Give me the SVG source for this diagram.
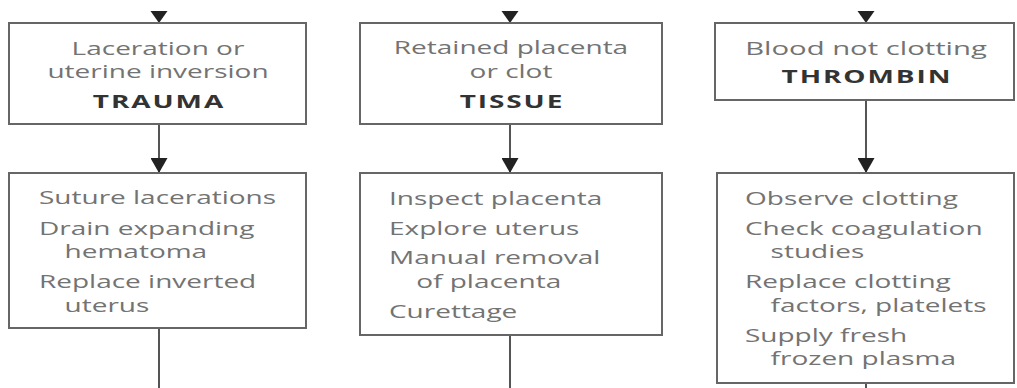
<svg xmlns="http://www.w3.org/2000/svg" width="1017" height="388" viewBox="0 0 1017 388">
<defs>
<style>
.box{fill:#fff;stroke:#666;stroke-width:2}
.conn{fill:none;stroke:#555;stroke-width:2}
.head{fill:#222}
text{font-family:"Open Sans","Noto Sans","Liberation Sans",sans-serif;font-size:17.5px}
.n{fill:#737373}
.b{fill:#333;font-weight:700;letter-spacing:1.2px}
.c{text-anchor:middle}
</style>
<marker id="arr" viewBox="0 0 15 17" refX="15" refY="8.5" markerWidth="15" markerHeight="17" markerUnits="userSpaceOnUse" orient="auto">
<path d="M0,0 L15,8.5 L0,17 z" fill="#222"/>
</marker>
</defs>
<rect width="1017" height="388" fill="#fff"/>

<g id="connectors">
<polygon class="head" points="150.5,11 167.5,11 159,23"/>
<polygon class="head" points="501.5,11 518.5,11 510,23"/>
<polygon class="head" points="857.5,11 874.5,11 866,23"/>
<path class="conn" d="M159,124 L159,173" marker-end="url(#arr)"/>
<path class="conn" d="M510,124 L510,173" marker-end="url(#arr)"/>
<path class="conn" d="M866,100 L866,173" marker-end="url(#arr)"/>
<path class="conn" d="M159,328 L159,388"/>
<path class="conn" d="M510,335 L510,388"/>
<path class="conn" d="M866,383 L866,388"/>
</g>

<g id="trauma">
<rect class="box" x="9" y="23" width="297" height="101"/>
<g transform="translate(158,0) scale(1.6,1)">
<text class="n c" x="0" y="55">Laceration or</text>
<text class="n c" x="0" y="78">uterine inversion</text>
<text class="b c" x="0.6" y="108">TRAUMA</text>
</g>
</g>

<g id="tissue">
<rect class="box" x="360" y="23" width="302" height="101"/>
<g transform="translate(511,0) scale(1.6,1)">
<text class="n c" x="0" y="54">Retained placenta</text>
<text class="n c" x="0" y="78">or clot</text>
<text class="b c" x="0.6" y="108">TISSUE</text>
</g>
</g>

<g id="thrombin">
<rect class="box" x="715" y="23" width="299" height="77"/>
<g transform="translate(866,0) scale(1.6,1)">
<text class="n c" x="0" y="55" textLength="151" lengthAdjust="spacingAndGlyphs">Blood not clotting</text>
<text class="b c" x="0.6" y="83">THROMBIN</text>
</g>
</g>

<g id="trauma-actions">
<rect class="box" x="9" y="173" width="297" height="155"/>
<g transform="translate(39,0) scale(1.6,1)">
<text class="n" x="0" y="204">Suture lacerations</text>
<text class="n" x="0" y="235">Drain expanding</text>
<text class="n" x="16" y="258">hematoma</text>
<text class="n" x="0" y="288">Replace inverted</text>
<text class="n" x="16" y="312">uterus</text>
</g>
</g>

<g id="tissue-actions">
<rect class="box" x="360" y="173" width="302" height="162"/>
<g transform="translate(389,0) scale(1.6,1)">
<text class="n" x="0" y="205">Inspect placenta</text>
<text class="n" x="0" y="235">Explore uterus</text>
<text class="n" x="0" y="264">Manual removal</text>
<text class="n" x="17" y="288">of placenta</text>
<text class="n" x="0" y="318">Curettage</text>
</g>
</g>

<g id="thrombin-actions">
<rect class="box" x="717" y="173" width="297" height="210"/>
<g transform="translate(745,0) scale(1.6,1)">
<text class="n" x="0" y="205">Observe clotting</text>
<text class="n" x="0" y="235">Check coagulation</text>
<text class="n" x="16" y="258">studies</text>
<text class="n" x="0" y="288">Replace clotting</text>
<text class="n" x="16" y="312">factors, platelets</text>
<text class="n" x="0" y="342">Supply fresh</text>
<text class="n" x="16" y="365">frozen plasma</text>
</g>
</g>
</svg>
